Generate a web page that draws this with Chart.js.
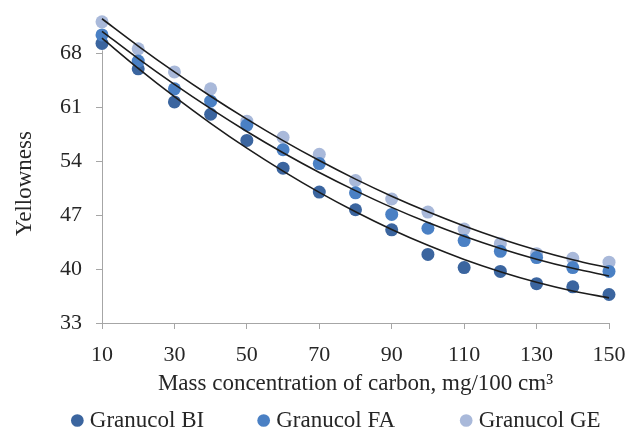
<!DOCTYPE html>
<html lang="en">
<head>
    <meta charset="UTF-8">
    <title>Yellowness vs mass concentration of carbon</title>
    <script src="https://cdn.jsdelivr.net/npm/chart.js"></script>
    <style>
        body {
            margin: 0;
            padding: 0;
            background: #fff;
        }
        #wrap {
            width: 633px;
            height: 432px;
        }
    </style>
</head>
<body>
<div id="wrap"><canvas id="yellowChart" width="633" height="432"></canvas></div>

<script>
    // mass concentration of carbon, mg/100 cm3
    const concentrations = [10, 20, 30, 40, 50, 60, 70, 80, 90, 100, 110, 120, 130, 140, 150];

    // measured yellowness
    const granucolBI = [69.3, 66.0, 61.7, 60.1, 56.7, 53.1, 50.0, 47.7, 45.1, 41.9, 40.2, 39.7, 38.1, 37.7, 36.7];
    const granucolFA = [70.4, 67.0, 63.4, 61.8, 58.7, 55.5, 53.7, 49.9, 47.1, 45.3, 43.7, 42.3, 41.5, 40.2, 39.7];
    const granucolGE = [72.1, 68.6, 65.6, 63.4, 59.2, 57.1, 54.9, 51.5, 49.1, 47.4, 45.2, 43.3, 42.0, 41.4, 40.9];

    // trend lines (2nd order polynomial)
    const trendBI = [69.98, 66.06, 62.38, 58.93, 55.70, 52.72, 49.96, 47.44, 45.14, 43.08, 41.25, 39.66, 38.29, 37.16, 36.26];
    const trendFA = [70.87, 67.32, 63.98, 60.83, 57.87, 55.11, 52.55, 50.19, 48.01, 46.04, 44.26, 42.68, 41.29, 40.10, 39.11];
    const trendGE = [72.50, 68.96, 65.60, 62.44, 59.47, 56.68, 54.09, 51.68, 49.46, 47.44, 45.60, 43.95, 42.49, 41.22, 40.14];

    const xTicks = [10, 30, 50, 70, 90, 110, 130, 150];
    const yTicks = [33, 40, 47, 54, 61, 68];

    const seriesNames = ['Granucol BI', 'Granucol FA', 'Granucol GE'];
    const seriesColors = ['#3b659f', '#4a80c4', '#a9b9da'];

    function toPoints(values) {
        return concentrations.map((x, i) => ({ x: x, y: values[i] }));
    }

    function markerSet(label, values, color, order) {
        return {
            label: label,
            data: toPoints(values),
            backgroundColor: color,
            borderColor: color,
            pointRadius: 6.5,
            pointHoverRadius: 6.5,
            pointBorderWidth: 0,
            showLine: false,
            clip: false,
            order: order
        };
    }

    function trendSet(values) {
        return {
            label: 'trend',
            data: toPoints(values),
            showLine: true,
            borderColor: '#1c1c1c',
            borderWidth: 1.6,
            pointRadius: 0,
            pointHoverRadius: 0,
            cubicInterpolationMode: 'monotone',
            fill: false,
            clip: false,
            order: 0
        };
    }

    const axisGrey = '#a6a6a6';
    const textColor = '#262626';
    const serif = "'Liberation Serif', 'Times New Roman', serif";

    Chart.defaults.font.family = serif;
    Chart.defaults.color = textColor;

    // vertical axis line only runs up to the top tick, like the original
    const shortYAxis = {
        id: 'shortYAxis',
        beforeDatasetsDraw(chart) {
            const y = chart.scales.y;
            const ctx = chart.ctx;
            ctx.save();
            ctx.strokeStyle = axisGrey;
            ctx.lineWidth = 1;
            ctx.beginPath();
            ctx.moveTo(chart.chartArea.left + 0.5, y.getPixelForValue(68.4));
            ctx.lineTo(chart.chartArea.left + 0.5, chart.chartArea.bottom);
            ctx.stroke();
            ctx.restore();
        }
    };

    // move the legend row to where the original has it
    const legendShift = {
        id: 'legendShift',
        afterLayout(chart) {
            chart.legend.left += 34;
            chart.legend.right += 34;
            chart.legend.top += 10;
            chart.legend.bottom += 10;
        }
    };

    new Chart(document.getElementById('yellowChart').getContext('2d'), {
        type: 'scatter',
        data: {
            datasets: [
                markerSet(seriesNames[0], granucolBI, seriesColors[0], 2),
                markerSet(seriesNames[1], granucolFA, seriesColors[1], 1),
                markerSet(seriesNames[2], granucolGE, seriesColors[2], 3),
                trendSet(trendBI),
                trendSet(trendFA),
                trendSet(trendGE)
            ]
        },
        plugins: [shortYAxis, legendShift],
        options: {
            responsive: false,
            animation: false,
            layout: {
                padding: { top: 28, right: 24, left: 0, bottom: 0 }
            },
            plugins: {
                tooltip: { enabled: false },
                legend: {
                    position: 'bottom',
                    labels: {
                        usePointStyle: true,
                        pointStyle: 'circle',
                        boxWidth: 2,
                        boxHeight: 9,
                        padding: 1,
                        color: textColor,
                        font: { size: 23, family: serif },
                        filter: item => item.text !== 'trend',
                        sort: (a, b) => a.datasetIndex - b.datasetIndex,
                        generateLabels: chart => {
                            const items = Chart.defaults.plugins.legend.labels.generateLabels(chart);
                            const gaps = [5, 6, 0];
                            items.forEach(item => {
                                const k = item.datasetIndex;
                                if (k < 3) {
                                    item.text = item.text + '\u2002'.repeat(gaps[k]);
                                    item.lineWidth = 0;
                                }
                            });
                            return items;
                        }
                    }
                }
            },
            scales: {
                x: {
                    type: 'linear',
                    min: 10,
                    max: 150,
                    afterBuildTicks: scale => {
                        scale.ticks = xTicks.map(v => ({ value: v }));
                    },
                    afterFit: scale => {
                        scale.height = 75;
                        scale.paddingRight = 0;
                    },
                    grid: {
                        display: true,
                        drawOnChartArea: false,
                        drawTicks: true,
                        tickLength: 6,
                        color: axisGrey
                    },
                    border: { display: true, color: axisGrey, width: 1 },
                    ticks: {
                        padding: 13,
                        color: textColor,
                        font: { size: 22 }
                    },
                    title: {
                        display: true,
                        text: 'Mass concentration of carbon, mg/100 cm³',
                        color: textColor,
                        font: { size: 23 },
                        padding: { top: 0, bottom: 0 }
                    }
                },
                y: {
                    type: 'linear',
                    min: 33,
                    max: 71.3,
                    afterBuildTicks: scale => {
                        scale.ticks = yTicks.map(v => ({ value: v }));
                    },
                    afterFit: scale => {
                        scale.width = 102;
                    },
                    grid: {
                        display: true,
                        drawOnChartArea: false,
                        drawTicks: true,
                        tickLength: 6,
                        color: axisGrey
                    },
                    border: { display: false },
                    ticks: {
                        padding: 14,
                        color: textColor,
                        font: { size: 22 }
                    },
                    title: {
                        display: true,
                        // trailing spaces push the rotated word a little lower
                        text: 'Yellowness\u2002\u2009',
                        color: textColor,
                        font: { size: 23 },
                        padding: { top: 11, bottom: 11 }
                    }
                }
            }
        }
    });
</script>
</body>
</html>
